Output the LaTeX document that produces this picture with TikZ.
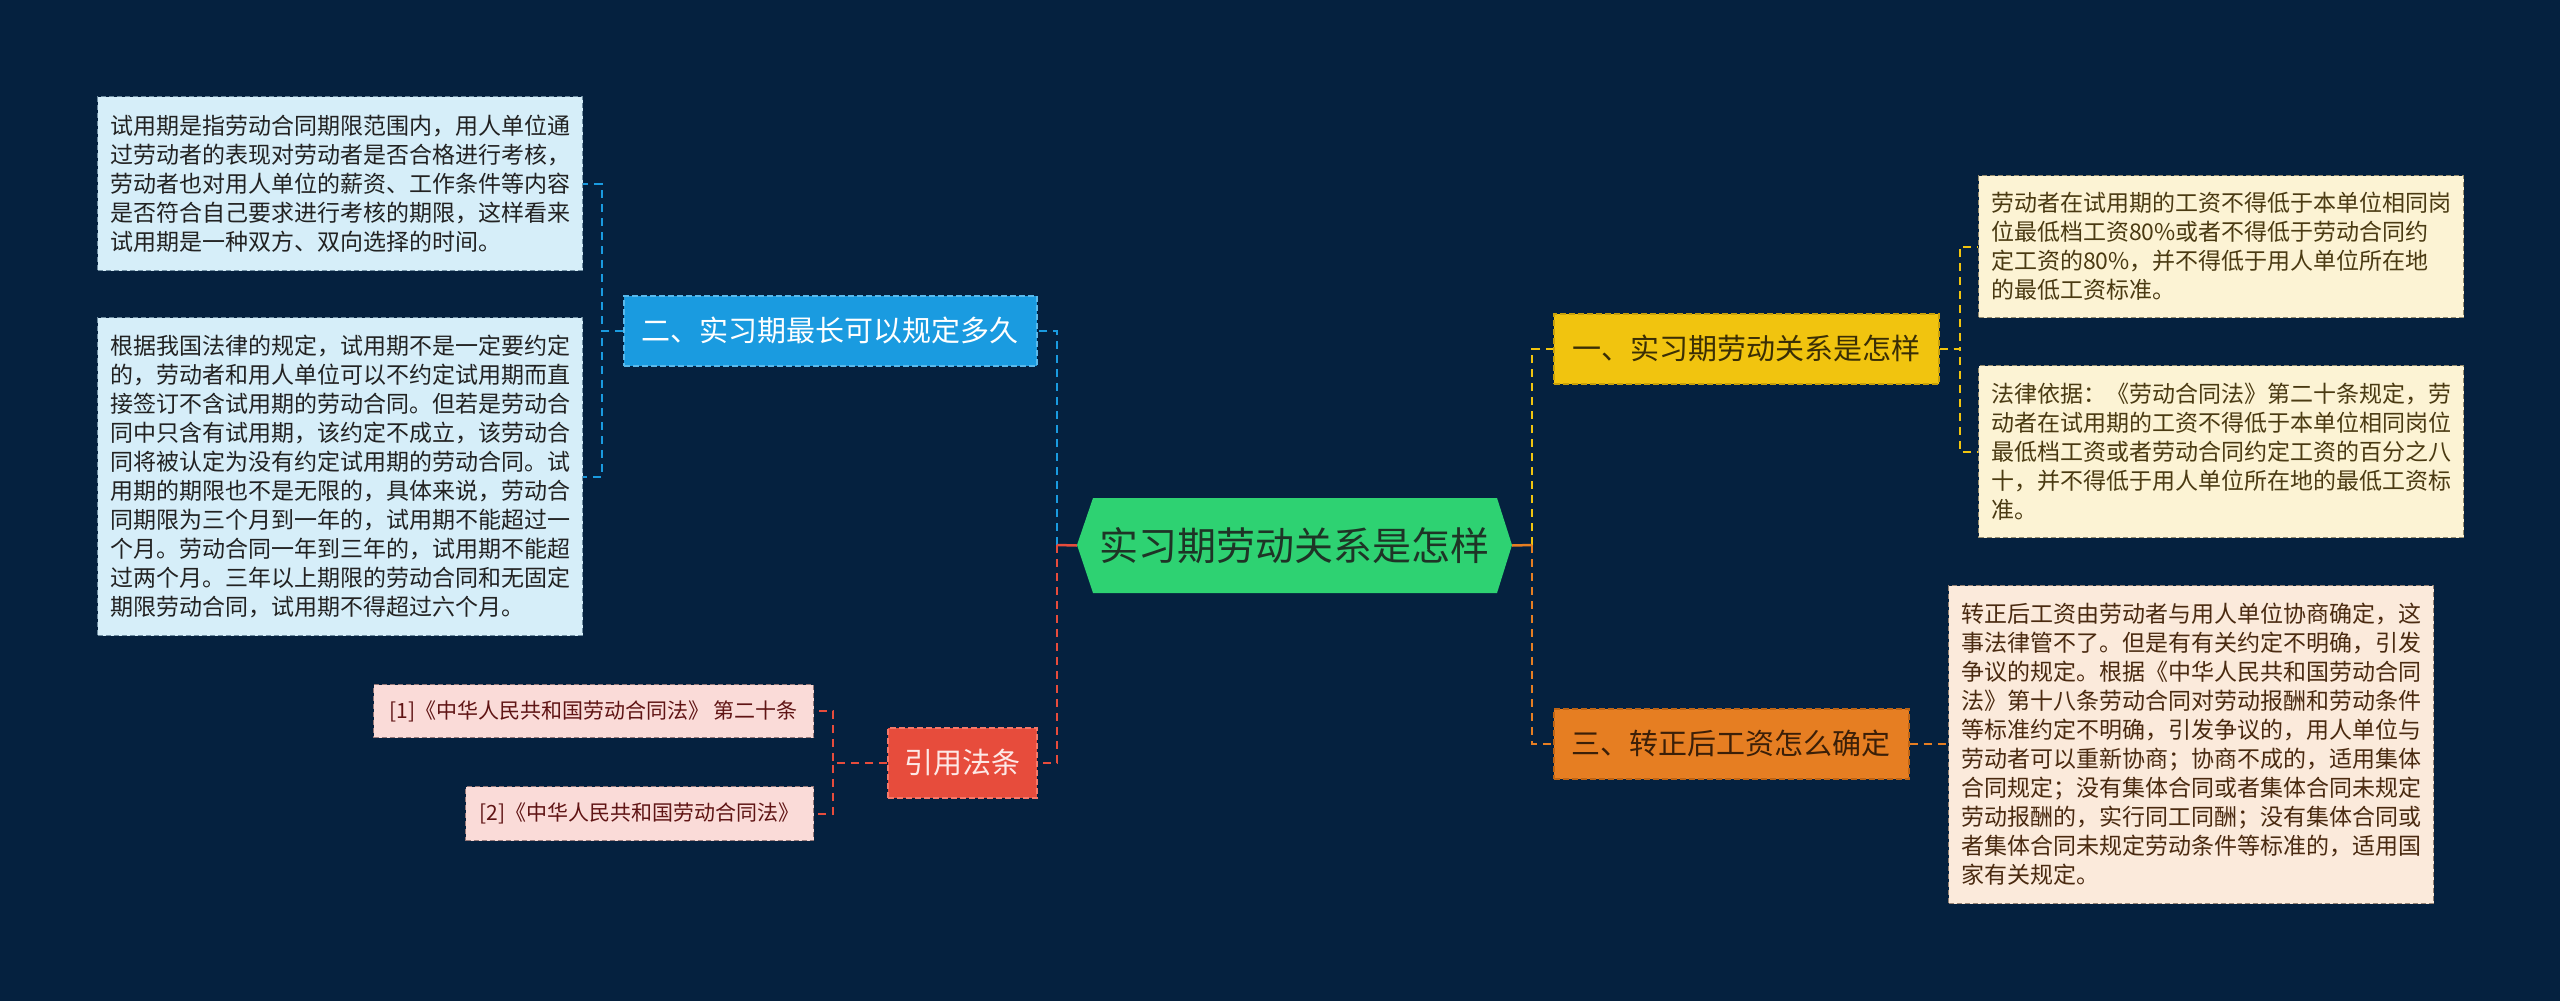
\documentclass[tikz,border=0pt]{standalone}
\usepackage{fontspec}
\setmainfont{Noto Sans CJK SC}
\definecolor{bg}{RGB}{5,33,63}
\definecolor{cgreen}{RGB}{46,210,114}
\definecolor{ctext}{RGB}{30,52,38}
\definecolor{ycol}{RGB}{241,196,15}
\definecolor{yline}{RGB}{200,160,10}
\definecolor{ytext}{RGB}{58,46,5}
\definecolor{ocol}{RGB}{230,126,34}
\definecolor{oline}{RGB}{190,100,20}
\definecolor{otext}{RGB}{59,31,8}
\definecolor{bcol}{RGB}{26,155,224}
\definecolor{bline}{RGB}{90,185,235}
\definecolor{rcol}{RGB}{231,76,60}
\definecolor{rline}{RGB}{245,120,105}
\definecolor{rtext}{RGB}{253,232,230}
\definecolor{bcfill}{RGB}{214,238,249}
\definecolor{bcline}{RGB}{110,140,160}
\definecolor{bctext}{RGB}{34,34,34}
\definecolor{ycfill}{RGB}{252,243,212}
\definecolor{ycline}{RGB}{150,140,110}
\definecolor{yctext}{RGB}{74,58,18}
\definecolor{ocfill}{RGB}{251,234,219}
\definecolor{ocline}{RGB}{150,130,115}
\definecolor{octext}{RGB}{74,42,16}
\definecolor{rcfill}{RGB}{250,219,216}
\definecolor{rcline}{RGB}{150,120,120}
\definecolor{rctext}{RGB}{95,20,20}
\begin{document}
\begin{tikzpicture}[x=1pt,y=-1pt,
  leaf/.style={anchor=north west, align=left, inner xsep=12pt, inner ysep=0pt,
    font=\fontsize{23}{29}\selectfont, dash pattern=on 5pt off 3pt, line width=1.3pt},
  bleaf/.style={leaf, fill=bcfill, draw=bcline, text=bctext},
  yleaf/.style={leaf, fill=ycfill, draw=ycline, text=yctext},
  oleaf/.style={leaf, fill=ocfill, draw=ocline, text=octext},
  rleaf/.style={leaf, fill=rcfill, draw=rcline, text=rctext, font=\fontsize{21}{26}\selectfont},
  topic/.style={anchor=north west, inner sep=0pt, font=\fontsize{29}{34}\selectfont,
    dash pattern=on 6pt off 3pt, line width=1.5pt, minimum height=70pt},
  link/.style={line width=2.5pt, dash pattern=on 8pt off 6pt},
  stem/.style={line width=2.5pt}
]
\useasboundingbox (0,0) rectangle (2560,1001);
\fill[bg] (0,0) rectangle (2560,1001);

% central hexagon
\fill[cgreen] (1077,545) -- (1093,498) -- (1497,498) -- (1512,545) -- (1497,593) -- (1093,593) -- cycle;
\node (c) at (1294.5,545.5) [minimum width=435pt, minimum height=95pt, inner sep=0pt,
  font=\fontsize{39}{44}\selectfont, text=ctext] {实习期劳动关系是怎样};

% main topics
\node[topic, fill=ycol, draw=yline, text=ytext, minimum width=385pt] (y1) at (1553,313) {一、实习期劳动关系是怎样};
\node[topic, fill=ocol, draw=oline, text=otext, minimum width=355pt] (o3) at (1553,708) {三、转正后工资怎么确定};
\node[topic, fill=bcol, draw=bline, text=white, minimum width=413pt] (b2) at (623,295) {二、实习期最长可以规定多久};
\node[topic, fill=rcol, draw=rline, text=rtext, minimum width=149pt] (r) at (887,727) {引用法条};

% leaves
\node[bleaf, minimum width=485pt, minimum height=174pt] (bc1) at (97,96) {试用期是指劳动合同期限范围内，用人单位通\\过劳动者的表现对劳动者是否合格进行考核，\\劳动者也对用人单位的薪资、工作条件等内容\\是否符合自己要求进行考核的期限，这样看来\\试用期是一种双方、双向选择的时间。};
\node[bleaf, minimum width=485pt, minimum height=318pt] (bc2) at (97,317) {根据我国法律的规定，试用期不是一定要约定\\的，劳动者和用人单位可以不约定试用期而直\\接签订不含试用期的劳动合同。但若是劳动合\\同中只含有试用期，该约定不成立，该劳动合\\同将被认定为没有约定试用期的劳动合同。试\\用期的期限也不是无限的，具体来说，劳动合\\同期限为三个月到一年的，试用期不能超过一\\个月。劳动合同一年到三年的，试用期不能超\\过两个月。三年以上期限的劳动合同和无固定\\期限劳动合同，试用期不得超过六个月。};
\node[rleaf, minimum width=440pt, minimum height=53pt] (rc1) at (373,684) {[1]《中华人民共和国劳动合同法》 第二十条};
\node[rleaf, minimum width=348pt, minimum height=54pt] (rc2) at (465,786) {[2]《中华人民共和国劳动合同法》};
\node[yleaf, minimum width=485pt, minimum height=142pt] (yc1) at (1978,175) {劳动者在试用期的工资不得低于本单位相同岗\\位最低档工资80\%或者不得低于劳动合同约\\定工资的80\%，并不得低于用人单位所在地\\的最低工资标准。};
\node[yleaf, minimum width=485pt, minimum height=172pt] (yc2) at (1978,365) {法律依据：《劳动合同法》第二十条规定，劳\\动者在试用期的工资不得低于本单位相同岗位\\最低档工资或者劳动合同约定工资的百分之八\\十，并不得低于用人单位所在地的最低工资标\\准。};
\node[oleaf, minimum width=485pt, minimum height=318pt] (oc) at (1948,585) {转正后工资由劳动者与用人单位协商确定，这\\事法律管不了。但是有有关约定不明确，引发\\争议的规定。根据《中华人民共和国劳动合同\\法》第十八条劳动合同对劳动报酬和劳动条件\\等标准约定不明确，引发争议的，用人单位与\\劳动者可以重新协商；协商不成的，适用集体\\合同规定；没有集体合同或者集体合同未规定\\劳动报酬的，实行同工同酬；没有集体合同或\\者集体合同未规定劳动条件等标准的，适用国\\家有关规定。};

% junctions
\coordinate (jl) at (1057,545);
\coordinate (jr) at (1532,545);

% connectors from centre
\draw[link, bcol] (jl) |- (b2.east);
\draw[link, rcol] (jl) |- (r.east);
\draw[link, ycol] (jr) |- (y1.west);
\draw[link, ocol] (jr) |- (o3.west);
\draw[stem, rcol] (c.west) -- (jl);
\draw[stem, ocol] (c.east) -- (jr);

% connectors to leaves
\draw[link, bcol, line width=2pt] (b2.west) -- ++(-21,0) |- (bc1.east);
\draw[link, bcol, line width=2pt] (b2.west) -- ++(-21,0) |- (bc2.east);
\draw[link, rcol, line width=2pt] (r.west) -- ++(-54,0) |- (rc1.east);
\draw[link, rcol, line width=2pt] (r.west) -- ++(-54,0) |- (rc2.east);
\draw[link, ycol, line width=2pt] (y1.east) -- ++(20,0) |- (yc1.west);
\draw[link, ycol, line width=2pt] (y1.east) -- ++(20,0) |- (yc2.west);
\draw[link, ocol, line width=2pt] (o3.east) -- (oc.west |- o3.east);
\end{tikzpicture}
\end{document}
